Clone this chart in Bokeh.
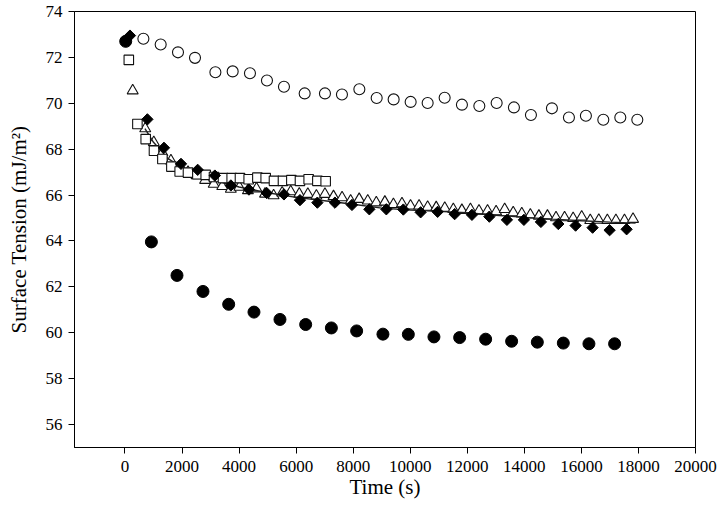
import math
from bokeh.plotting import figure
from bokeh.models import Range1d, FixedTicker
from bokeh.embed import file_html
from bokeh.resources import INLINE

# ---- data ----
open_circle_t = [645, 1251, 1858, 2454, 3169, 3775, 4381, 4977, 5573, 6299, 7010, 7606, 8216, 8823,
                 9418, 10014, 10610, 11206, 11812, 12422, 13029, 13635, 14231, 14967, 15563, 16158,
                 16768, 17364, 17960]
open_circle_y = [72.81, 72.56, 72.22, 71.98, 71.35, 71.39, 71.31, 70.99, 70.72, 70.43, 70.43, 70.38,
                 70.61, 70.23, 70.17, 70.06, 70.01, 70.24, 69.94, 69.88, 70.01, 69.82, 69.49, 69.78,
                 69.38, 69.46, 69.28, 69.38, 69.28]

filled_circle_t = [25, 925, 1823, 2734, 3635, 4522, 5433, 6334, 7235, 8121, 9043, 9933, 10831, 11732,
                   12643, 13554, 14455, 15366, 16264, 17164]
filled_circle_y = [72.70, 63.96, 62.50, 61.80, 61.24, 60.90, 60.58, 60.36, 60.21, 60.08, 59.94, 59.93,
                   59.82, 59.79, 59.72, 59.63, 59.59, 59.55, 59.52, 59.52]

diamond_t = [175, 785, 1367, 1963, 2548, 3150, 3712, 4346, 4967, 5573, 6134, 6744, 7360, 7957, 8566,
             9162, 9758, 10364, 10960, 11556, 12163, 12773, 13389, 13985, 14581, 15191, 15797, 16393,
             16989, 17585]
diamond_y = [72.95, 69.30, 68.06, 67.36, 67.10, 66.85, 66.42, 66.24, 66.09, 66.03, 65.78, 65.67, 65.67,
             65.57, 65.38, 65.38, 65.37, 65.25, 65.27, 65.17, 65.14, 65.06, 64.92, 64.92, 64.83, 64.74,
             64.67, 64.58, 64.47, 64.51]

square_t = [134, 435, 726, 1016, 1311, 1626, 1917, 2208, 2538, 2829, 3120, 3435, 3740, 4031, 4336, 4641,
            4932, 5223, 5538, 5832, 6134, 6439, 6744, 7035]
square_y = [71.89, 69.10, 68.44, 67.93, 67.57, 67.24, 67.03, 66.98, 66.91, 66.88, 66.79, 66.74, 66.74,
            66.74, 66.69, 66.76, 66.74, 66.62, 66.62, 66.65, 66.62, 66.69, 66.62, 66.60]

triangle_t = [270, 710, 1010, 1310, 1610, 1910, 2210, 2510, 2810, 3110, 3410, 3710, 4010, 4310, 4610,
              4910, 5210, 5510, 5810, 6110, 6410, 6710, 7010, 7310, 7610, 7910, 8210, 8510, 8810, 9110,
              9410, 9710, 10010, 10310, 10610, 10910, 11210, 11510, 11810, 12110, 12410, 12710, 13010,
              13310, 13610, 13910, 14210, 14510, 14810, 15110, 15410, 15710, 16010, 16310, 16610,
              16910, 17210, 17510, 17810]
triangle_y = [70.55, 68.90, 68.30, 67.85, 67.50, 67.25, 67.00, 66.85, 66.65, 66.48, 66.38, 66.26, 66.35,
              66.20, 66.28, 66.05, 65.98, 66.10, 66.15, 66.05, 66.04, 65.97, 66.04, 65.94, 65.89, 65.75,
              65.82, 65.75, 65.67, 65.70, 65.60, 65.63, 65.53, 65.53, 65.48, 65.46, 65.43, 65.38, 65.34,
              65.38, 65.31, 65.31, 65.28, 65.38, 65.24, 65.19, 65.14, 65.09, 65.09, 65.02, 65.02, 64.99,
              65.05, 64.90, 64.91, 64.90, 64.90, 64.90, 64.95]

fit_t = [700, 1000, 1500, 2000, 2500, 3000, 4000, 5000, 6000, 7000, 8000, 9000, 10000, 11000, 12000,
         13000, 14000, 15000, 16000, 17000, 17900]
fit_y = [68.90, 68.30, 67.60, 67.20, 66.95, 66.70, 66.35, 66.10, 65.90, 65.75, 65.60, 65.43, 65.35,
         65.29, 65.23, 65.12, 65.03, 64.95, 64.88, 64.82, 64.78]

x_ticks = [0, 2000, 4000, 6000, 8000, 10000, 12000, 14000, 16000, 18000, 20000]
y_ticks = [56, 58, 60, 62, 64, 66, 68, 70, 72, 74]

FONT = "Liberation Serif"

p = figure(width=720, height=522, output_backend="svg", toolbar_location=None,
           x_range=Range1d(-1770, 20000), y_range=Range1d(55, 74),
           min_border_left=74, min_border_right=25, min_border_top=11, min_border_bottom=75)

p.xgrid.visible = False
p.ygrid.visible = False
p.outline_line_color = "black"
p.outline_line_width = 1
p.background_fill_color = "white"
p.border_fill_color = "white"

for ax in (p.xaxis[0], p.yaxis[0]):
    ax.axis_line_color = "black"
    ax.major_tick_line_color = "black"
    ax.minor_tick_line_color = None
    ax.major_tick_in = 0
    ax.major_tick_out = 6
    ax.major_label_text_font = FONT
    ax.major_label_text_font_size = "17px"
    ax.major_label_text_color = "black"
    ax.axis_label_text_font = FONT
    ax.axis_label_text_font_size = "21px"
    ax.axis_label_text_font_style = "normal"
    ax.axis_label_text_color = "black"

p.xaxis.ticker = FixedTicker(ticks=x_ticks)
p.yaxis.ticker = FixedTicker(ticks=y_ticks)
p.xaxis.axis_label = "Time (s)"
p.yaxis.axis_label = "Surface Tension (mJ/m²)"
p.xaxis.major_label_standoff = 7
p.xaxis.axis_label_standoff = 0
p.yaxis.major_label_standoff = 6
p.yaxis.axis_label_standoff = 12

# markers
p.scatter(triangle_t, triangle_y, marker="triangle", size=11, fill_color="white",
          line_color="#111111", line_width=1.1)
p.line(fit_t, fit_y, line_color="#222222", line_width=1.4)
p.scatter(square_t, square_y, marker="square", size=9.5, fill_color="white",
          line_color="#111111", line_width=1.1)
p.scatter(diamond_t, diamond_y, marker="square", angle=math.pi / 4, size=8, fill_color="black",
          line_color="black", line_width=1)
p.scatter(open_circle_t, open_circle_y, marker="circle", size=11, fill_color="white",
          line_color="#111111", line_width=1.1)
p.scatter(filled_circle_t, filled_circle_y, marker="circle", size=12, fill_color="black",
          line_color="black", line_width=1)

open("out.html", "w").write(file_html(p, INLINE))
